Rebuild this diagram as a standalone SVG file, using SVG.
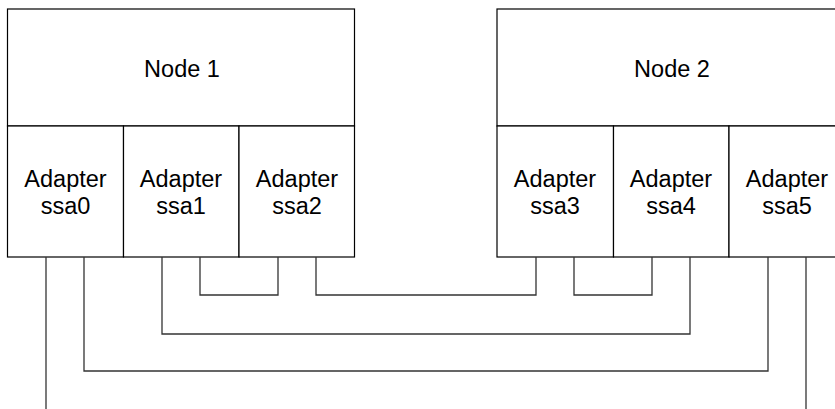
<svg xmlns="http://www.w3.org/2000/svg" width="835" height="409" viewBox="0 0 835 409">
<style>
.box{fill:#fff;stroke:#000;stroke-width:1.2}
.t{font-family:"Liberation Sans",Arial,sans-serif;font-size:23.5px;fill:#000;text-anchor:middle}
.c{fill:none;stroke:#333;stroke-width:1.3}
</style>
<rect width="835" height="409" fill="#fff"/>
<g id="node1">
<rect class="box" x="7.5" y="9" width="347" height="117"/>
<text class="t" x="182" y="77">Node 1</text>
</g>
<g id="ssa0">
<rect class="box" x="7.5" y="126" width="116" height="131"/>
<text class="t" x="65.5" y="187">Adapter</text>
<text class="t" x="65.5" y="213.5">ssa0</text>
</g>
<g id="ssa1">
<rect class="box" x="123.5" y="126" width="115.5" height="131"/>
<text class="t" x="181" y="187">Adapter</text>
<text class="t" x="181" y="213.5">ssa1</text>
</g>
<g id="ssa2">
<rect class="box" x="239" y="126" width="115.5" height="131"/>
<text class="t" x="297" y="187">Adapter</text>
<text class="t" x="297" y="213.5">ssa2</text>
</g>
<g id="node2">
<rect class="box" x="497" y="9" width="348" height="117"/>
<text class="t" x="672" y="77">Node 2</text>
</g>
<g id="ssa3">
<rect class="box" x="497" y="126" width="116.5" height="131"/>
<text class="t" x="555" y="187">Adapter</text>
<text class="t" x="555" y="213.5">ssa3</text>
</g>
<g id="ssa4">
<rect class="box" x="613.5" y="126" width="115.5" height="131"/>
<text class="t" x="671" y="187">Adapter</text>
<text class="t" x="671" y="213.5">ssa4</text>
</g>
<g id="ssa5">
<rect class="box" x="729" y="126" width="116" height="131"/>
<text class="t" x="787" y="187">Adapter</text>
<text class="t" x="787" y="213.5">ssa5</text>
</g>
<g id="connectors">
<polyline class="c" points="200,257 200,295 278,295 278,257"/>
<polyline class="c" points="316,257 316,295 536,295 536,257"/>
<polyline class="c" points="574,257 574,295 652,295 652,257"/>
<polyline class="c" points="162,257 162,334 690,334 690,257"/>
<polyline class="c" points="84,257 84,371 768,371 768,257"/>
<line class="c" x1="46" y1="257" x2="46" y2="409"/>
<line class="c" x1="806" y1="257" x2="806" y2="409"/>
</g>
</svg>
